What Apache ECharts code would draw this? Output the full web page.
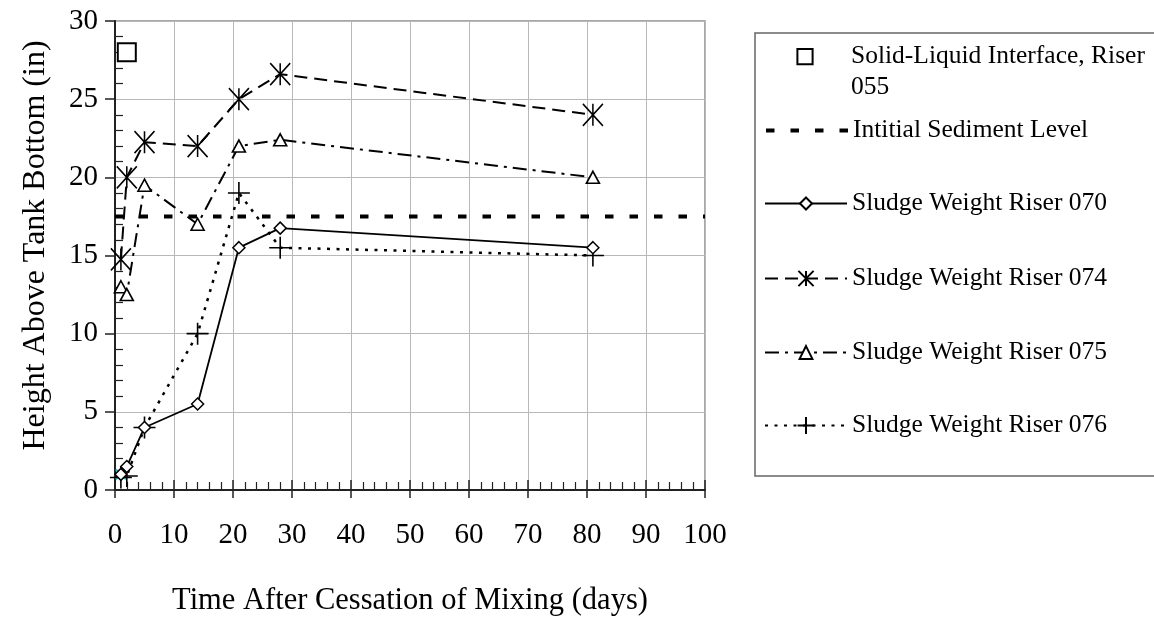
<!DOCTYPE html>
<html>
<head>
<meta charset="utf-8">
<script src="https://cdn.jsdelivr.net/npm/echarts@6/dist/echarts.min.js"></script>
<style>
  html, body { margin: 0; padding: 0; background: #fff; }
  #chart { width: 1154px; height: 622px; }
</style>
</head>
<body>
<div id="chart"></div>
<script>
// Settling of sludge after mixing stopped: height above tank bottom vs. time
const seriesNames = [
  'Solid-Liquid Interface, Riser 055',
  'Intitial Sediment Level',
  'Sludge Weight Riser 070',
  'Sludge Weight Riser 074',
  'Sludge Weight Riser 075',
  'Sludge Weight Riser 076'
];

const daysInterface = [2];
const heightInterface = [28];

const daysSediment = [0, 100];
const heightSediment = [17.5, 17.5];

const days070 = [1, 2, 5, 14, 21, 28, 81];
const height070 = [1, 1.5, 4, 5.5, 15.5, 16.75, 15.5];

const days074 = [1, 2, 5, 14, 21, 28, 81];
const height074 = [14.75, 20, 22.25, 22, 25, 26.6, 24];

const days075 = [1, 2, 5, 14, 21, 28, 81];
const height075 = [13, 12.5, 19.5, 17, 22, 22.4, 20];

const days076 = [1, 2, 5, 14, 21, 28, 81];
const height076 = [0.8, 0.9, 4, 10, 19, 15.5, 15];

const daysExtra = [1];
const heightExtra = [1];

const xTicks = [0, 10, 20, 30, 40, 50, 60, 70, 80, 90, 100];
const yTicks = [0, 5, 10, 15, 20, 25, 30];

const pairs = (xs, ys) => xs.map((x, i) => [x, ys[i]]);

const FONT = '"Liberation Serif", "Times New Roman", serif';
const ASTERISK = 'path://M0,0L20,22M20,0L0,22M10,0L10,22';
const PLUS = 'path://M0,11L22,11M11,0L11,22';
const XMARK = 'path://M0,0L10,10M10,0L0,10';

const chart = echarts.init(document.getElementById('chart'), null, { renderer: 'canvas' });

const xBase = {
  type: 'value', gridIndex: 0, position: 'bottom',
  min: xTicks[0], max: xTicks[xTicks.length - 1], interval: xTicks[1] - xTicks[0]
};
const yBase = {
  type: 'value', gridIndex: 0, position: 'left',
  min: yTicks[0], max: yTicks[yTicks.length - 1], interval: yTicks[1] - yTicks[0]
};

const LEGEND_FONT = 25.5;

function legendFor(name, top, itemHeight, extra) {
  return Object.assign({
    data: [name],
    left: 764,
    top: top,
    orient: 'vertical',
    padding: 0,
    itemWidth: 82,
    itemHeight: itemHeight,
    selectedMode: false,
    textStyle: { fontFamily: FONT, fontSize: LEGEND_FONT, lineHeight: 25, color: '#000' }
  }, extra || {});
}

const lineCommon = {
  type: 'line',
  xAxisIndex: 0,
  yAxisIndex: 0,
  showSymbol: true,
  showAllSymbol: true,
  emphasis: { disabled: true },
  silent: true
};

const option = {
  animation: false,
  backgroundColor: '#fff',
  grid: {
    left: 115, top: 21, right: 449, bottom: 132,
    show: true, borderColor: '#8c8c8c', borderWidth: 1.5, backgroundColor: 'transparent'
  },
  xAxis: [
    Object.assign({}, xBase, {
      name: 'Time After Cessation of Mixing (days)',
      nameLocation: 'middle',
      nameGap: 95,
      nameTextStyle: { fontFamily: FONT, fontSize: 30.5, color: '#000' },
      axisLine: { show: true, onZero: false, lineStyle: { color: '#222', width: 2 } },
      axisTick: { show: true, inside: false, length: 8, lineStyle: { color: '#222', width: 1.5 } },
      minorTick: { show: false },
      splitLine: { show: true, lineStyle: { color: '#b8b8b8', width: 1 } },
      axisLabel: { fontFamily: FONT, fontSize: 29, color: '#000', margin: 31 }
    }),
    Object.assign({}, xBase, {
      axisLine: { show: false },
      axisTick: { show: true, inside: true, length: 10, lineStyle: { color: '#222', width: 1.5 } },
      minorTick: { show: true, splitNumber: 5, length: 8, lineStyle: { color: '#222', width: 1.2 } },
      splitLine: { show: false },
      axisLabel: { show: false }
    })
  ],
  yAxis: [
    Object.assign({}, yBase, {
      name: 'Height Above Tank Bottom (in)',
      nameLocation: 'middle',
      nameGap: 63,
      nameTextStyle: { fontFamily: FONT, fontSize: 32, color: '#000', padding: [0, 0, 0, 20] },
      axisLine: { show: true, onZero: false, lineStyle: { color: '#222', width: 2 } },
      axisTick: { show: true, inside: false, length: 10, lineStyle: { color: '#222', width: 1.5 } },
      minorTick: { show: false },
      splitLine: { show: true, lineStyle: { color: '#b8b8b8', width: 1 } },
      axisLabel: { fontFamily: FONT, fontSize: 29, color: '#000', margin: 17 }
    }),
    Object.assign({}, yBase, {
      axisLine: { show: false },
      axisTick: { show: false, inside: true },
      minorTick: { show: true, splitNumber: 5, length: 8, lineStyle: { color: '#222', width: 1.2 } },
      splitLine: { show: false },
      axisLabel: { show: false }
    })
  ],
  legend: [
    // leading blank line keeps the icon level with the first text line
    legendFor(seriesNames[0], 56.7 - 46.5, 19, {
      formatter: '\nSolid-Liquid Interface, Riser\n055',
      textStyle: { fontFamily: FONT, fontSize: LEGEND_FONT, lineHeight: 31, color: '#000' }
    }),
    legendFor(seriesNames[1], 130 - 12.5, 16, {
      itemStyle: { opacity: 0 },
      lineStyle: { width: 4, type: [8.5, 16] }
    }),
    legendFor(seriesNames[2], 203 - 12.5, 15),
    legendFor(seriesNames[3], 278 - 12.5, 19),
    legendFor(seriesNames[4], 352 - 12.5, 16),
    legendFor(seriesNames[5], 425 - 12.5, 21)
  ],
  graphic: [
    {
      type: 'rect',
      shape: { x: 755, y: 33, width: 420, height: 443 },
      style: { fill: 'transparent', stroke: '#666', lineWidth: 1.5 },
      silent: true,
      z: -1
    }
  ],
  series: [
    Object.assign({}, lineCommon, {
      name: 'extra',
      data: pairs(daysExtra, heightExtra),
      symbol: XMARK,
      symbolSize: 10,
      lineStyle: { width: 0 },
      itemStyle: { color: 'transparent', borderColor: '#27c6d6', borderWidth: 2 },
      z: 1
    }),
    Object.assign({}, lineCommon, {
      name: seriesNames[1],
      data: pairs(daysSediment, heightSediment),
      symbol: 'none',
      lineStyle: { color: '#000', width: 4, type: [8.5, 16] },
      itemStyle: { color: '#000' },
      z: 2
    }),
    Object.assign({}, lineCommon, {
      name: seriesNames[5],
      data: pairs(days076, height076),
      symbol: PLUS,
      symbolSize: 22,
      lineStyle: { color: '#000', width: 2.5, type: [3, 6.5] },
      itemStyle: { color: 'transparent', borderColor: '#000', borderWidth: 1.6 },
      z: 3
    }),
    Object.assign({}, lineCommon, {
      name: seriesNames[4],
      data: pairs(days075, height075),
      symbol: 'triangle',
      symbolSize: [13, 12],
      lineStyle: { color: '#000', width: 2, type: [14, 6, 3, 6] },
      itemStyle: { color: '#fff', borderColor: '#000', borderWidth: 1.6 },
      z: 4
    }),
    Object.assign({}, lineCommon, {
      name: seriesNames[3],
      data: pairs(days074, height074),
      symbol: ASTERISK,
      symbolSize: [20, 22],
      lineStyle: { color: '#000', width: 2, type: [13, 7] },
      itemStyle: { color: 'transparent', borderColor: '#000', borderWidth: 1.6 },
      z: 5
    }),
    Object.assign({}, lineCommon, {
      name: seriesNames[2],
      data: pairs(days070, height070),
      symbol: 'diamond',
      symbolSize: 12,
      lineStyle: { color: '#000', width: 1.8, type: 'solid' },
      itemStyle: { color: '#fff', borderColor: '#000', borderWidth: 1.5 },
      z: 6
    }),
    // interface reading: marker only, no connecting line
    Object.assign({}, lineCommon, {
      name: seriesNames[0],
      data: pairs(daysInterface, heightInterface),
      symbol: 'rect',
      symbolSize: 18,
      lineStyle: { color: '#000', width: 0, opacity: 0 },
      itemStyle: { color: '#fff', borderColor: '#000', borderWidth: 2 },
      z: 7
    })
  ]
};

chart.setOption(option);
</script>
</body>
</html>
